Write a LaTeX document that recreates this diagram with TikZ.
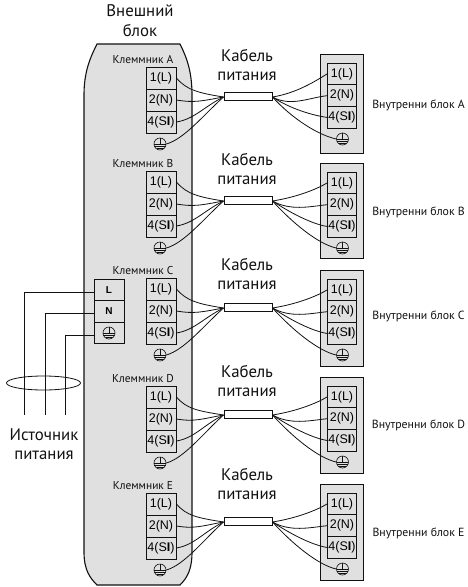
\documentclass[tikz,border=0pt]{standalone}
\usepackage{fontspec}
\usetikzlibrary{shapes.geometric}
\setmainfont{PT Sans}
\newfontfamily\cellfont{Liberation Sans}
\definecolor{bodygray}{HTML}{E0E0E0}
\definecolor{wirek}{HTML}{111111}
\tikzset{
  x=1pt,y=-1pt,
  cell/.style={draw=wirek,line width=1pt,minimum width=#1,minimum height=22pt,inner sep=0pt,font=\cellfont\fontsize{12.5}{12.5}\selectfont},
  earth/.style={circle,draw=wirek,line width=.6pt,minimum size=12pt,inner sep=0pt,
    path picture={
      \draw[line width=.6pt] (path picture bounding box.west) -- (path picture bounding box.east);
      \draw[line width=.6pt] ([yshift=-2pt]path picture bounding box.west) -- ([yshift=-2pt]path picture bounding box.east);
      \draw[line width=.6pt] ([shift={(2.5pt,-4pt)}]path picture bounding box.west) -- ([shift={(-2.5pt,-4pt)}]path picture bounding box.east);
      \draw[line width=.6pt] (path picture bounding box.north) -- (path picture bounding box.center);
    }},
  wire/.style={draw=wirek,line width=.8pt},
  cablebox/.style={draw=wirek,line width=1pt,fill=white,minimum width=48pt,minimum height=8pt,inner sep=0pt},
  big/.style={font=\fontsize{16.8}{16.8}\selectfont,text=wirek,inner sep=0pt},
  small/.style={font=\fontsize{11.4}{11.4}\selectfont,text=wirek,inner sep=0pt},
  unitlabel/.style={font=\fontsize{11.8}{11.8}\selectfont,text=wirek,inner sep=0pt},
}
\begin{document}
\begin{tikzpicture}
\useasboundingbox (0,0) rectangle (467,587);
% outdoor body
\path[fill=bodygray,draw=wirek,line width=1.1pt] (97,44) -- (180,44)
  .. controls (187,58) and (192,72) .. (192,95) -- (192,552)
  .. controls (192,570) and (187,578) .. (180,585) -- (97,585)
  .. controls (90,578) and (84,570) .. (84,552) -- (84,95)
  .. controls (84,72) and (90,58) .. (97,44) -- cycle;
\node[big] (outA) at (140,11) {Внешний};
\node[big] (outB) at (140,31) {блок};
% power block
\node[cell=30pt,font=\cellfont\bfseries\fontsize{10}{10}\selectfont,minimum height=21.5pt] (pL) at (109,290) {L};
\node[cell=30pt,font=\cellfont\bfseries\fontsize{10}{10}\selectfont,minimum height=21.5pt] (pN) at (109,311.5) {N};
\node[cell=30pt,minimum height=21.5pt] (pE) at (109,333) {};
\node[earth] (pEs) at (109,333) {};
\coordinate (wL) at (24,415);
\coordinate (wN) at (45,415);
\coordinate (wE) at (65,415);
\draw[wire] ([yshift=-2pt]pL.west) -| (wL);
\draw[wire] ([yshift=-1.5pt]pN.west) -| (wN);
\draw[wire] ([yshift=-2.5pt]pE.west) -| (wE);
\node[draw=wirek,line width=.8pt,ellipse,minimum width=74pt,minimum height=14pt,inner sep=0pt] (ring) at (43.5,383) {};
\node[big] (srcA) at (44,435) {Источник};
\node[big] (srcB) at (44,455) {питания};
\foreach \id/\ttop/\cy/\rtop/\rh/\ky/\uy/\kn/\un in {
  a/67/96/54/99/56/105/Клеммник A/Внутренни блок A,
  b/171/200/163/95/160/212/Клеммник B/Внутренни блок B,
  c/278/307/270/96/265/316/Клеммник C/Внутренни блок C,
  d/386/414/377/96/372/425/Клеммник D/Внутренни блок D,
  e/493/521/484/96/475/533/Клеммник E/Внутренни блок E}{
  \node[small] (k\id) at (143,\ttop-7) {\kn};
  \node[cell=30pt] (t1\id) at (161,\ttop+11) {1(L)};
  \node[cell=30pt] (t2\id) at (161,\ttop+33) {2(N)};
  \node[cell=30pt] (t3\id) at (161,\ttop+55) {4(S\textbf{I})};
  \node[earth] (t4\id) at (160,\ttop+77) {};
  \node[cablebox] (c\id) at (248,\cy) {};
  \node[big] (cl\id) at (247,\ky) {Кабель};
  \node[big] (cm\id) at (247,\ky+20) {питания};
  \node[draw=wirek,line width=1pt,fill=bodygray,minimum width=43pt,minimum height=\rh pt,inner sep=0pt] (r\id) at (341.5,\rtop+\rh/2) {};
  \node[cell=29pt,minimum height=21.7pt] (r1\id) at (342,\rtop+20) {1(L)};
  \node[cell=29pt,minimum height=21.7pt] (r2\id) at (342,\rtop+41.7) {2(N)};
  \node[cell=29pt,minimum height=21.7pt] (r3\id) at (342,\rtop+63.4) {4(S\textbf{I})};
  \node[earth] (r4\id) at (342.5,\rtop+85) {};
  \node[unitlabel] (u\id) at (418.5,\uy) {\un};
  \draw[wire] (t1\id.east) .. controls +(10,12) and +(-25,-4) .. ([yshift=-1pt]c\id.west);
  \draw[wire] (t2\id.east) .. controls +(18,3) and +(-22,4) .. ([yshift=-1pt]c\id.west);
  \draw[wire] (t3\id.east) .. controls +(18,-3) and +(-20,10) .. ([yshift=-1pt]c\id.west);
  \draw[wire] (t4\id.east) .. controls +(18,-5) and +(-20,18) .. ([yshift=-1pt]c\id.west);
  \draw[wire] ([yshift=-1pt]c\id.east) .. controls +(25,-4) and +(-10,6) .. (r1\id.west);
  \draw[wire] ([yshift=-1pt]c\id.east) .. controls +(18,10) and +(-18,2) .. (r2\id.west);
  \draw[wire] ([yshift=-1pt]c\id.east) .. controls +(18,12) and +(-14,-2) .. (r3\id.west);
  \draw[wire] ([yshift=-1pt]c\id.east) .. controls +(20,22) and +(-18,-4) .. (r4\id.west);
}
\end{tikzpicture}
\end{document}
